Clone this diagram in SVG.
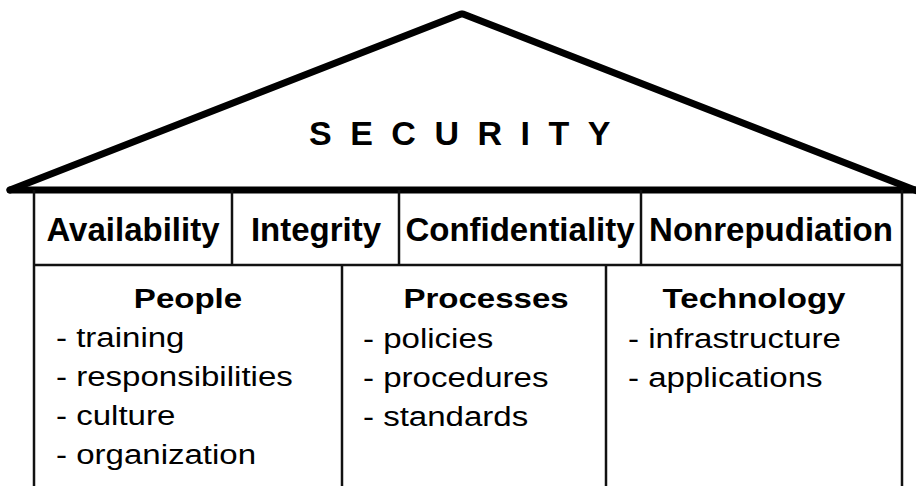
<svg xmlns="http://www.w3.org/2000/svg" width="916" height="486" viewBox="0 0 916 486">
  <style>
    .roof { stroke: #000; stroke-width: 7; stroke-linecap: round; fill: none; }
    .rule { stroke: #111; stroke-width: 2.5; fill: none; }
    .title { font-family: "Liberation Sans", Arial, sans-serif; font-weight: bold; font-size: 34px; letter-spacing: 18.5px; fill: #000; }
    .pillar { font-family: "Liberation Sans", Arial, sans-serif; font-weight: bold; font-size: 33px; text-anchor: middle; fill: #000; }
    .head { font-family: "Liberation Sans", Arial, sans-serif; font-weight: bold; font-size: 28px; text-anchor: middle; fill: #000; }
    .item { font-family: "Liberation Sans", Arial, sans-serif; font-size: 28px; fill: #000; }
  </style>
  <rect width="916" height="486" fill="#fff"/>

  <!-- roof with its title -->
  <g id="roof">
    <line class="roof" x1="10" y1="190" x2="461" y2="14"/>
    <line class="roof" x1="463" y1="14" x2="920" y2="192"/>
    <line class="roof" x1="10" y1="190" x2="920" y2="190"/>
    <text class="title" x="309" y="145">SECURITY</text>
  </g>

  <!-- frame of pillars and foundation -->
  <g id="frame">
    <line class="rule" x1="34" y1="190" x2="34" y2="486"/>
    <line class="rule" x1="902" y1="190" x2="902" y2="486"/>
    <line class="rule" x1="34" y1="265" x2="902" y2="265"/>
    <line class="rule" x1="232" y1="190" x2="232" y2="265"/>
    <line class="rule" x1="399" y1="190" x2="399" y2="265"/>
    <line class="rule" x1="641" y1="190" x2="641" y2="265"/>
    <line class="rule" x1="342" y1="265" x2="342" y2="486"/>
    <line class="rule" x1="606" y1="265" x2="606" y2="486"/>
  </g>

  <!-- pillars -->
  <g id="availability"><text class="pillar" x="133" y="241">Availability</text></g>
  <g id="integrity"><text class="pillar" x="316" y="241">Integrity</text></g>
  <g id="confidentiality"><text class="pillar" x="520" y="241">Confidentiality</text></g>
  <g id="nonrepudiation"><text class="pillar" x="771" y="241">Nonrepudiation</text></g>

  <!-- foundation columns -->
  <g id="people">
    <text class="head" transform="translate(188 308) scale(1.18 1)">People</text>
    <text class="item" transform="translate(56 347) scale(1.18 1)">- training</text>
    <text class="item" transform="translate(56 386) scale(1.18 1)">- responsibilities</text>
    <text class="item" transform="translate(56 425) scale(1.18 1)">- culture</text>
    <text class="item" transform="translate(56 464) scale(1.18 1)">- organization</text>
  </g>
  <g id="processes">
    <text class="head" transform="translate(486 308) scale(1.18 1)">Processes</text>
    <text class="item" transform="translate(363 348) scale(1.18 1)">- policies</text>
    <text class="item" transform="translate(363 387) scale(1.18 1)">- procedures</text>
    <text class="item" transform="translate(363 426) scale(1.18 1)">- standards</text>
  </g>
  <g id="technology">
    <text class="head" transform="translate(754 308) scale(1.18 1)">Technology</text>
    <text class="item" transform="translate(628 348) scale(1.18 1)">- infrastructure</text>
    <text class="item" transform="translate(628 387) scale(1.18 1)">- applications</text>
  </g>
</svg>
